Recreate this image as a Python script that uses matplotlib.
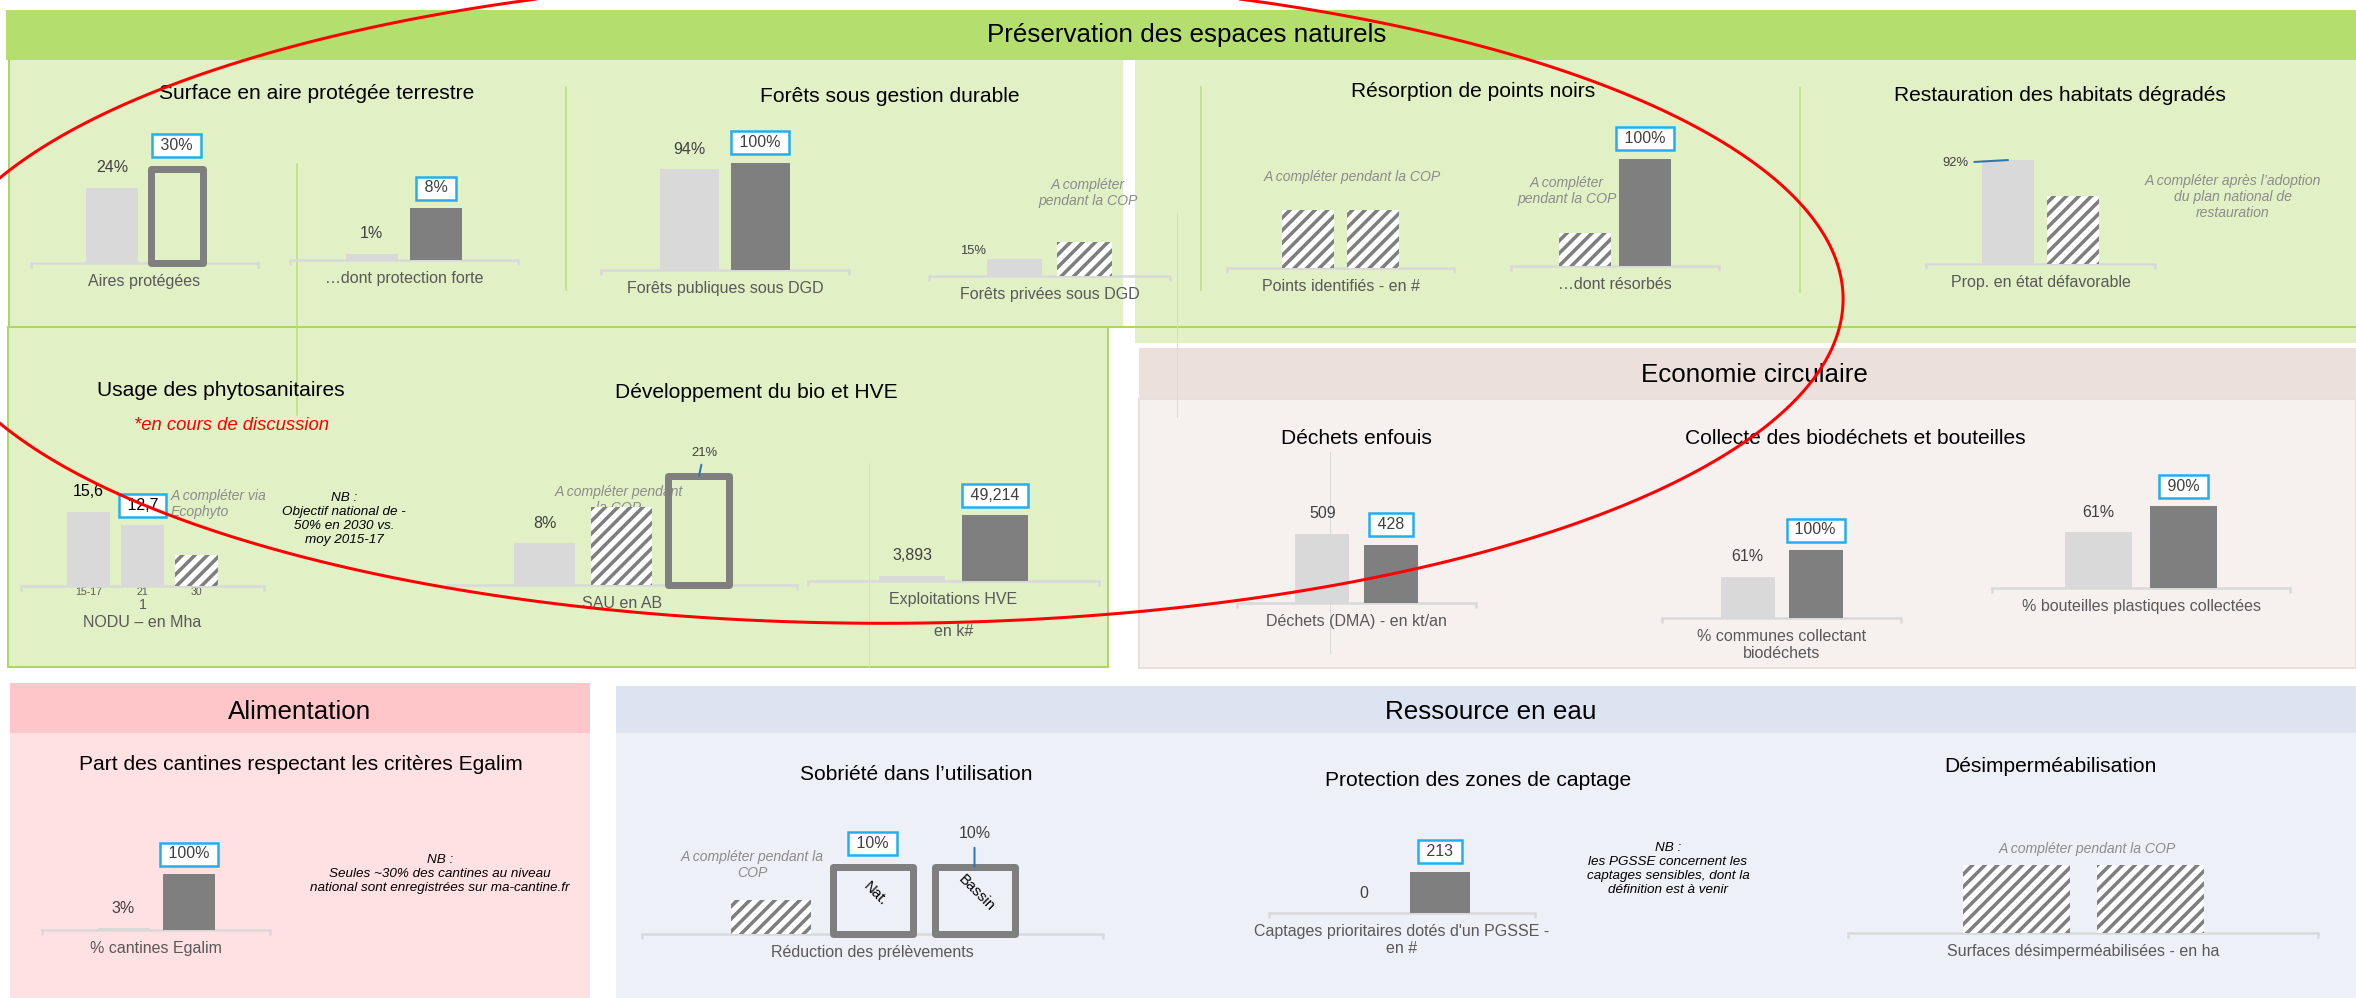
import matplotlib
matplotlib.use('Agg')
import matplotlib.pyplot as plt
from matplotlib.patches import Rectangle
import numpy as np

plt.rcParams['font.family'] = ['Liberation Sans', 'DejaVu Sans']
plt.rcParams['hatch.linewidth'] = 1.7
plt.rcParams['hatch.color'] = '#7f7f7f'

aires_vals = [24, 30]
aires_lbls = ['24%', '30%']
forte_vals = [1, 8]
forte_lbls = ['1%', '8%']
pub_vals = [94, 100]
pub_lbls = ['94%', '100%']
priv_vals = [15, 30]
priv_lbls = ['15%', '']
points_vals = [1, 1]
resorb_vals = [31, 100]
resorb_lbls = ['', '100%']
habitat_vals = [92, 60]
habitat_lbls = ['92%', '']
nodu_vals = [15.6, 12.7, 6.5]
nodu_lbls = ['15,6', '12,7', '']
nodu_ticks = ['15-17', '21', '30']
sau_vals = [8, 15, 21]
sau_lbls = ['8%', '', '21%']
hve_vals = [3893, 49214]
hve_lbls = ['3,893', '49,214']
dma_vals = [509, 428]
dma_lbls = ['509', '428']
biod_vals = [61, 100]
biod_lbls = ['61%', '100%']
bout_vals = [61, 90]
bout_lbls = ['61%', '90%']
egalim_vals = [3, 100]
egalim_lbls = ['3%', '100%']
prel_vals = [5, 10, 10]
prel_lbls = ['', '10%', '10%']
prel_names = ['', 'Nat.', 'Bassin']
pgsse_vals = [0, 213]
pgsse_lbls = ['0', '213']
desimp_vals = [1, 1]

# points du cercle rouge (annotation a la main)
ring_x = [0, 76, 230, 383, 513, 1530, 1664, 1770, 1796, 1847, 1789, 1750,
          1644, 1525, 1367, 1130, 1014, 856, 658, 500, 383, 230, 115, 0]
ring_y = [168, 122, 65, 32, 0, 60, 110, 173, 200, 318, 408, 440,
          485, 537, 582, 614, 622, 625, 618, 597, 568, 533, 488, 430]

W, H, DPI = 2356, 998, 150

LIGHT = '#d9d9d9'
DARK = '#7f7f7f'
BOX = '#22aef0'
LEAD = '#2e75b6'
TXT = '#404040'
CAT = '#595959'
NOTE = '#8c8c8c'


def pt(p):
    # pixels -> points
    return p * 72 / DPI


fig = plt.figure(figsize=(W / DPI, H / DPI), dpi=DPI)
bg = fig.add_axes([0, 0, 1, 1])
bg.set_xlim(0, W)
bg.set_ylim(H, 0)
bg.axis('off')


def rect(x, y, w, h, fc, ec='none', lw=0):
    bg.add_patch(Rectangle((x, y), w, h, facecolor=fc, edgecolor=ec, linewidth=lw))


def vline(x, y0, y1, c, lw=1.5):
    bg.plot([x, x], [y0, y1], color=c, lw=pt(lw))


def txt(x, y, s, size, color='black', **kw):
    kw.setdefault('ha', 'center')
    bg.text(x, y, s, fontsize=pt(size), color=color, va='center', **kw)


### Panneaux
rect(6, 10, 2350, 50, '#b4df6e')
rect(8, 60, 1115, 267, '#e1f0c5')
rect(1135, 60, 1221, 283, '#e1f0c5')
rect(8, 327, 1100, 340, '#e1f0c5', '#abd767', pt(2))
bg.plot([8, W], [327, 327], color='#abd767', lw=pt(2))
vline(9, 60, 327, '#abd767', 2)
rect(1139, 348, 1217, 51, '#ece0dc')
rect(1139, 399, 1217, 269, '#f6f0ee', '#ebdfdb', pt(2))
rect(10, 683, 580, 50, '#ffc6ca')
rect(10, 733, 580, 265, '#ffe0e3')
rect(616, 686, 1740, 47, '#dce3f1')
rect(616, 733, 1740, 265, '#edf0f7')

for x, a, b in [(297, 164, 415), (566, 87, 290), (1201, 87, 290), (1800, 88, 292)]:
    vline(x, a, b, '#b9e07c')
for x, a, b in [(1177, 213, 417), (869, 463, 667), (1330, 452, 653)]:
    vline(x, a, b, '#d9d9d9', 1)

### Titres
txt(1187, 35, 'Préservation des espaces naturels', 26)
txt(1754, 375, 'Economie circulaire', 26)
txt(300, 712, 'Alimentation', 26)
txt(1491, 712, 'Ressource en eau', 26)

for x, y, s in [(317, 93, 'Surface en aire protégée terrestre'),
                (890, 96, 'Forêts sous gestion durable'),
                (1473, 91, 'Résorption de points noirs'),
                (2060, 95, 'Restauration des habitats dégradés'),
                (221, 390, 'Usage des phytosanitaires'),
                (756, 393, 'Développement du bio et HVE'),
                (1356, 439, 'Déchets enfouis'),
                (1855, 439, 'Collecte des biodéchets et bouteilles'),
                (301, 765, 'Part des cantines respectant les critères Egalim'),
                (916, 775, 'Sobriété dans l’utilisation'),
                (1478, 781, 'Protection des zones de captage'),
                (2050, 767, 'Désimperméabilisation')]:
    txt(x, y, s, 21)

txt(231, 426, '*en cours de discussion', 18.5, 'red', style='italic')

# notes grises
for x, y, s in [(1088, 193, 'A compléter\npendant la COP'),
                (1352, 177, 'A compléter pendant la COP'),
                (1567, 191, 'A compléter\npendant la COP'),
                (2233, 197, 'A compléter après l’adoption\ndu plan national de\nrestauration'),
                (619, 500, 'A compléter pendant\nla COP'),
                (752, 865, 'A compléter pendant la\nCOP'),
                (2087, 849, 'A compléter pendant la COP')]:
    txt(x, y, s, 14, NOTE, style='italic')
txt(171, 504, 'A compléter via\nEcophyto', 14, NOTE, style='italic', ha='left')

# NB
txt(344, 519, 'NB :\nObjectif national de -\n50% en 2030 vs.\nmoy 2015-17', 13.5, 'black', style='italic')
txt(440, 874, 'NB :\nSeules ~30% des cantines au niveau\nnational sont enregistrées sur ma-cantine.fr',
    13.5, 'black', style='italic')
txt(1668, 869, 'NB :\nles PGSSE concernent les\ncaptages sensibles, dont la\ndéfinition est à venir',
    13.5, 'black', style='italic')


def chart(x0, x1, base, scale, step, width, vals, kinds, lbls=None, boxed=(),
          cat=None, cat_off=11, ax_h=230, lcol=TXT, offs=None, lsize=None, leads=()):
    ax = fig.add_axes([x0 / W, 1 - base / H, (x1 - x0) / W, ax_h / H])
    ax.set_xlim(-0.5, 0.5)
    ax.set_ylim(0, ax_h / scale)
    ax.patch.set_visible(False)
    for s in ['top', 'left', 'right']:
        ax.spines[s].set_visible(False)
    ax.spines['bottom'].set_color(LIGHT)
    ax.spines['bottom'].set_linewidth(pt(2.5))
    ax.set_yticks([])
    ax.set_xticks([])
    ax.set_xticks([-0.5, 0.5], minor=True)
    ax.tick_params(axis='x', which='minor', length=pt(5), width=pt(2.5), color=LIGHT)
    n = len(vals)
    span = x1 - x0
    pos = [(i - (n - 1) / 2) * step / span for i in range(n)]
    wd = width / span
    for p, v, k in zip(pos, vals, kinds):
        if k == 'a':
            ax.bar(p, v, wd, color=LIGHT, zorder=3, clip_on=False)
        elif k == 't':
            ax.bar(p, v, wd, color=DARK, zorder=3, clip_on=False)
        elif k == 'o':
            ax.bar(p, v, wd, facecolor='none', edgecolor=DARK, linewidth=pt(7),
                   joinstyle='round', zorder=3, clip_on=False)
        else:
            ax.bar(p, v, wd, facecolor='white', edgecolor=DARK, hatch='////',
                   linewidth=0, zorder=3, clip_on=False)
    offs = offs or {}
    lsize = lsize or {}
    if lbls:
        for i, (p, v, k, t) in enumerate(zip(pos, vals, kinds, lbls)):
            if not t:
                continue
            dx, dy = offs.get(i, (0, 20 + (3.5 if k == 'o' else 0)))
            kw = dict(xytext=(pt(dx), pt(dy)), textcoords='offset points', ha='center',
                      va='center', fontsize=pt(lsize.get(i, 16)), color=lcol,
                      annotation_clip=False, zorder=6)
            if i in boxed:
                kw['bbox'] = dict(boxstyle='square,pad=0.25', fc='white', ec=BOX, lw=pt(2.5))
                t = ' %s ' % t
            if i in leads:
                kw['arrowprops'] = dict(arrowstyle='-', color=LEAD, lw=pt(2), shrinkA=1, shrinkB=0)
            ax.annotate(t, (p, v), **kw)
    if cat:
        ax.annotate(cat, (0, 0), xytext=(0, -pt(cat_off)), textcoords='offset points',
                    ha='center', va='top', fontsize=pt(16), color=CAT, annotation_clip=False)
    return ax, pos


### Préservation des espaces naturels
chart(31, 258, 263, 3.125, 64.5, 52, aires_vals, 'ao', aires_lbls, [1], 'Aires protégées')
chart(290, 518, 260, 6.5, 64.5, 52, forte_vals, 'at', forte_lbls, [1], '…dont protection forte')
chart(601, 849, 270, 1.07, 70.5, 59, pub_vals, 'at', pub_lbls, [1], 'Forêts publiques sous DGD')
chart(929, 1170, 276, 1.13, 69.5, 55, priv_vals, 'ah', priv_lbls, (), 'Forêts privées sous DGD',
      offs={0: (-42, 8)}, lsize={0: 13})
chart(1227, 1454, 268, 58, 64.5, 52, points_vals, 'hh', None, (), 'Points identifiés - en #')
chart(1511, 1719, 266, 1.07, 60, 52, resorb_vals, 'ht', resorb_lbls, [1], '…dont résorbés')
chart(1926, 2155, 264, 1.13, 65, 52, habitat_vals, 'ah', habitat_lbls, (), 'Prop. en état défavorable',
      offs={0: (-53, -3)}, lsize={0: 13}, leads=[0])

ax, pos = chart(21, 264, 586, 4.77, 54, 43, nodu_vals, 'aah', nodu_lbls, [1], 'NODU – en Mha',
                cat_off=29, lcol='black')
ax.set_xticks(pos, nodu_ticks)
ax.tick_params(axis='x', which='major', length=0, pad=pt(1), labelsize=pt(10.5), labelcolor=CAT)
ax.annotate('1', (pos[1], 0), xytext=(0, -pt(19)), textcoords='offset points', ha='center',
            va='center', fontsize=pt(14), color=CAT, annotation_clip=False)

chart(447, 797, 585, 5.19, 77, 61, sau_vals, 'aho', sau_lbls, (), 'SAU en AB',
      offs={2: (5, 23.5)}, lsize={2: 13}, leads=[2])
ax, pos = chart(808, 1099, 581, 0.001341, 82.5, 66, hve_vals, 'at', hve_lbls, [1], 'Exploitations HVE')
ax.annotate('en k#', (0, 0), xytext=(0, -pt(51)), textcoords='offset points', ha='center',
            va='center', fontsize=pt(16), color=CAT, annotation_clip=False)

### Economie circulaire
chart(1237, 1476, 603, 0.1356, 68.5, 54, dma_vals, 'at', dma_lbls, [1], 'Déchets (DMA) - en kt/an')
chart(1662, 1901, 618, 0.68, 68, 54, biod_vals, 'at', biod_lbls, [1],
      '% communes collectant\nbiodéchets')
chart(1992, 2290, 588, 0.91, 85, 67, bout_vals, 'at', bout_lbls, [1],
      '% bouteilles plastiques collectées')

### Alimentation
chart(42, 270, 930, 0.56, 65, 52, egalim_vals, 'at', egalim_lbls, [1], '% cantines Egalim')

### Ressource en eau
ax, pos = chart(642, 1103, 934, 6.75, 102, 80, prel_vals, 'hoo', prel_lbls, [1],
                'Réduction des prélèvements', offs={2: (0, 32.5)}, leads=[2])
for p, v, s in zip(pos, prel_vals, prel_names):
    if s:
        ax.text(p + 0.005, v * 0.6, s, rotation=-45, ha='center', va='center',
                fontsize=pt(15), color='black', zorder=6)
chart(1269, 1535, 913, 0.1925, 76, 60, pgsse_vals, 'at', pgsse_lbls, [1],
      "Captages prioritaires dotés d'un PGSSE -\nen #")
chart(1848, 2318, 933, 68, 134, 107, desimp_vals, 'hh', None, (),
      'Surfaces désimperméabilisées - en ha')

### Cercle rouge
top = fig.add_axes([0, 0, 1, 1], zorder=10)
top.set_xlim(0, W)
top.set_ylim(H, 0)
top.axis('off')
top.patch.set_visible(False)
u = np.array(ring_x) / 1000.0
v = np.array(ring_y) / 1000.0
M = np.column_stack([u * u, u * v, v * v, u, v])
c = np.linalg.lstsq(M, np.ones_like(u), rcond=None)[0]
gx, gy = np.meshgrid(np.linspace(-0.5, 2.6, 900), np.linspace(-0.5, 1.2, 600))
Z = c[0] * gx ** 2 + c[1] * gx * gy + c[2] * gy ** 2 + c[3] * gx + c[4] * gy
top.contour(gx * 1000, gy * 1000, Z, levels=[1], colors='#ff0000', linewidths=pt(3))
top.set_xlim(0, W)
top.set_ylim(H, 0)

fig.savefig('out.png', dpi=DPI)
